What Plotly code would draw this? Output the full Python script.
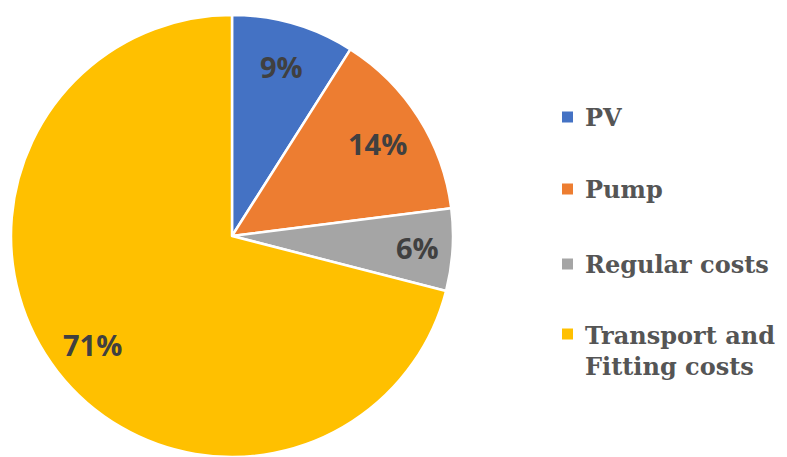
import math
import plotly.graph_objects as go

# Cost breakdown shares (%)
categories = ["PV", "Pump", "Regular costs", "Transport and<br>Fitting costs"]
shares = [9, 14, 6, 71]
colors = ["#4472C4", "#ED7D31", "#A5A5A5", "#FFC000"]

W, H = 787, 457
CX, CY, R = 232, 236, 221  # pie centre and radius in pixels


def px_x(x):
    return x / W


def px_y(y):
    return 1 - y / H


fig = go.Figure()
fig.add_trace(go.Pie(
    labels=categories,
    values=shares,
    marker=dict(colors=colors, line=dict(color="white", width=2.5)),
    sort=False,
    direction="clockwise",
    rotation=0,
    textinfo="none",
    hoverinfo="label+percent",
    showlegend=False,
    domain=dict(x=[px_x(CX - R), px_x(CX + R)],
                y=[max(0.0, px_y(CY + R)), px_y(CY - R)]),
))

# Percentage labels placed along each slice's mid-angle
total = sum(shares)
cum = 0.0
label_r = [0.8, 0.78, 0.84, 0.8]
for v, fr in zip(shares, label_r):
    mid = (cum + v / 2) / total * 2 * math.pi
    cum += v
    px = CX + fr * R * math.sin(mid)
    py = CY - fr * R * math.cos(mid)
    fig.add_annotation(
        x=px_x(px), y=px_y(py), xref="paper", yref="paper",
        text=f"{round(v / total * 100)}%", showarrow=False,
        xanchor="center", yanchor="middle",
        font=dict(family="Open Sans", size=29, color="#404040", weight=700),
    )

# Legend: colour squares with labels
legend_y = [117, 189, 264, 351]
for name, col, ly in zip(categories, colors, legend_y):
    sq_y = ly if "<br>" not in name else ly - 17
    fig.add_shape(
        type="rect", xref="paper", yref="paper",
        x0=px_x(562), x1=px_x(573), y0=px_y(sq_y - 5.5), y1=px_y(sq_y + 5.5),
        fillcolor=col, line=dict(width=0),
    )
    fig.add_annotation(
        x=px_x(583), y=px_y(ly), xref="paper", yref="paper",
        text=name, showarrow=False, align="left",
        xanchor="left", yanchor="middle",
        font=dict(family="DejaVu Serif", size=24, color="#555555", weight=700),
    )

fig.update_layout(
    width=W, height=H,
    margin=dict(l=0, r=0, t=0, b=0),
    paper_bgcolor="white", plot_bgcolor="white",
)

fig.write_html("out.html")
